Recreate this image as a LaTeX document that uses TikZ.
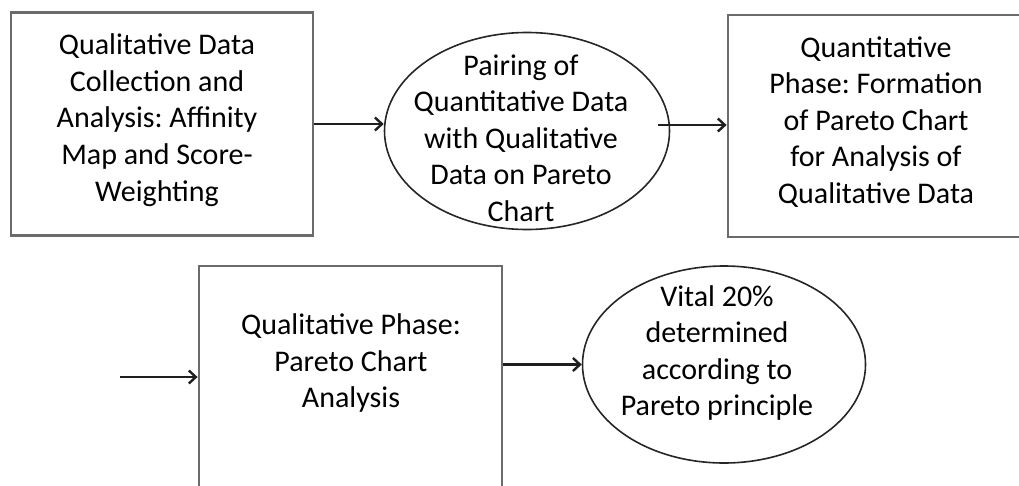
\documentclass[tikz,border=0pt]{standalone}
\usepackage{fontspec}
\setmainfont{Carlito}
\frenchspacing
\usetikzlibrary{arrows.meta,shapes.geometric}
\begin{document}
\begin{tikzpicture}[x=1pt,y=-1pt,
  boxstyle/.style={draw=black!58, line width=2.8pt, rectangle, inner sep=0pt},
  ellstyle/.style={draw=black!85, line width=1.6pt, ellipse, inner sep=0pt},
  txt/.style={align=center, inner sep=0pt, font=\fontsize{30}{36.6}\selectfont, text=black},
  conn/.style={line width=2.6pt, draw=black!88, -{Straight Barb[length=7pt,width=13pt,line width=2.4pt]}}]
\useasboundingbox (0,0) rectangle (1019,485);
\clip (0,0) rectangle (1019,485);
% shapes
\node[boxstyle, minimum width=302pt, minimum height=223pt] (b1) at (162,124) {};
\node[ellstyle, minimum width=285pt, minimum height=197pt] (e1) at (527,131) {};
\node[boxstyle, minimum width=296pt, minimum height=222pt] (b3) at (876,126) {};
\node[boxstyle, minimum width=303pt, minimum height=254pt] (b4) at (350.5,393) {};
\node[ellstyle, minimum width=283pt, minimum height=197pt] (e2) at (724,364.5) {};
% texts
\node[txt] (t1) at (157,120) {Qualitative Data\\Collection and\\Analysis: Affinity\\Map and Score-\\Weighting};
\node[txt] (t2) at (521,138) {Pairing of\\Quantitative Data\\with Qualitative\\Data on Pareto\\Chart};
\node[txt] (t3) at (876,122) {Quantitative\\Phase: Formation\\of Pareto Chart\\for Analysis of\\Qualitative Data};
\node[txt] (t4) at (351,363) {Qualitative Phase:\\Pareto Chart\\Analysis};
\node[txt] (t5) at (717,353) {Vital 20\%\\determined\\according to\\Pareto principle};
% connectors
\coordinate (a2s) at (658,125);
\coordinate (a3s) at (120,377);
\draw[conn] (b1.east) -- (e1.west |- b1.east);
\draw[conn] (a2s) -- (b3.west |- a2s);
\draw[conn] (a3s) -- (b4.west |- a3s);
\draw[conn] (e2.west -| b4.east) -- (e2.west);
\end{tikzpicture}
\end{document}
